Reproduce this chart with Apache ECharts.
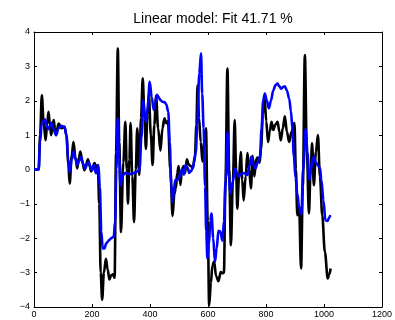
<!DOCTYPE html>
<html>
<head>
<meta charset="utf-8">
<script src="https://cdn.jsdelivr.net/npm/echarts@6/dist/echarts.min.js"></script>
<style>
  html, body { margin: 0; padding: 0; background: #fff; }
  #chart { width: 395px; height: 320px; }
</style>
</head>
<body>
<div id="chart"></div>
<script>
// 测量输出 (黑线)
var measuredX = [0, 16, 21, 27, 33, 40, 45, 50, 55, 59, 64, 68, 72, 76, 80, 85, 95, 105, 112, 118,
  123, 130, 136, 143, 149, 155, 160, 167, 174, 180, 186, 192, 197, 203, 209, 215, 220, 225, 230, 235,
  241, 248, 254, 260, 266, 272, 278, 283, 289, 294, 300, 308, 315, 320, 324, 329, 333, 339, 345, 351,
  356, 363, 369, 375, 381, 386, 391, 396, 403, 409, 415, 421, 428, 436, 443, 450, 456, 462, 470, 478,
  484, 489, 494, 499, 505, 510, 516, 521, 527, 533, 540, 548, 555, 560, 564, 569, 575, 581, 587, 593,
  599, 604, 610, 615, 621, 628, 636, 644, 650, 655, 660, 667, 673, 679, 686, 692, 697, 701, 707, 713,
  718, 723, 730, 736, 742, 748, 754, 760, 766, 772, 778, 783, 789, 795, 801, 807, 813, 819, 825, 832,
  840, 846, 851, 858, 865, 872, 880, 888, 898, 903, 908, 914, 921, 927, 934, 941, 948, 954, 959, 965,
  972, 979, 986, 994, 1003, 1013, 1018, 1023]
var measuredY = [0, 0, 1.0, 2.16, 1.4, 0.85, 1.3, 1.68, 1.3, 1.0, 1.25, 1.44, 1.2, 1.0, 1.2, 1.34, 1.2, 1.24, 1.0, 0.2,
  -0.41, 0.4, 0.8, 0.35, 0.03, 0.35, 0.52, 0.2, -0.02, 0.15, 0.3, 0.1, -0.06, 0.1, 0.19, 0.05, 0.12, -1.0, -3.0, -3.79,
  -3.0, -2.6, -2.9, -3.2, -3.08, -3.05, -3.15, 0.5, 3.52, 0.8, -1.82, 0.2, 1.39, 0.0, -0.99, 0.3, 1.35, -0.2, -1.53, 0.0,
  1.2, -0.16, 1.5, 2.65, 1.5, 0.6, 1.6, 2.2, 1.0, 0.13, 1.3, 2.14, 1.2, 0.55, 1.2, 1.49, 1.35, 1.4, 0.0, -1.35,
  -0.7, -0.55, -0.1, 0.1, -0.45, 0.0, 0.1, -0.1, 0.3, 0.15, 0.1, 0.05, 0.4, 1.3, 2.45, 1.5, 0.8, 0.23, 0.8, 1.2,
  -1.5, -3.95, -3.3, -2.8, -2.68, -3.1, -3.25, -2.98, -3.02, -3.0, -0.5, 2.94, 0.0, -2.2, -0.3, 1.44, 0.0, -1.14, -0.2, 0.51,
  -0.3, -0.9, -0.2, 0.48, 0.0, -0.55, 0.4, -0.2, 0.3, 0.35, 0.2, 0.6, 1.6, 2.1, 1.4, 0.8, 1.1, 1.39, 1.15, 1.3,
  1.39, 1.1, 0.85, 1.2, 1.55, 1.1, 0.8, 1.1, 1.35, 0.0, -1.33, -1.1, -2.88, -0.5, 3.33, 0.5, -1.28, 0.0, 0.76, -0.46,
  0.5, 1.0, -0.2, -1.33, -2.4, -3.17, -3.05, -2.88]

// 模型输出 (蓝线)
var modelX = [0, 16, 21, 27, 32, 37, 43, 48, 54, 59, 66, 76, 85, 94, 105, 112, 118, 123, 130, 137,
  143, 149, 156, 163, 170, 177, 183, 189, 195, 200, 206, 214, 222, 227, 232, 237, 243, 249, 254, 260,
  266, 275, 280, 284, 289, 294, 298, 305, 312, 325, 335, 345, 358, 364, 370, 377, 382, 386, 392, 399,
  406, 413, 418, 424, 430, 436, 443, 450, 456, 463, 468, 473, 478, 483, 488, 494, 500, 506, 511, 517,
  523, 530, 535, 541, 548, 552, 558, 563, 570, 576, 580, 585, 590, 594, 598, 603, 608, 612, 618, 624,
  630, 636, 642, 650, 655, 661, 667, 672, 677, 684, 694, 700, 706, 713, 720, 728, 736, 743, 749, 756,
  764, 771, 779, 785, 790, 796, 803, 810, 817, 825, 833, 840, 846, 853, 859, 865, 872, 880, 886, 891,
  896, 902, 908, 914, 922, 928, 937, 943, 949, 955, 960, 966, 972, 980, 986, 991, 998, 1005, 1012, 1018,
  1022]
var modelY = [0, 0, 0.8, 1.36, 1.4, 1.46, 1.3, 1.17, 1.25, 1.36, 1.2, 1.0, 1.2, 1.27, 1.24, 1.0, 0.3, -0.08, 0.3, 0.52,
  0.3, 0.13, 0.25, 0.37, 0.15, 0.03, 0.15, 0.22, 0.05, -0.02, 0.13, -0.11, 0.13, -0.5, -1.8, -2.3, -2.3, -2.15, -2.1, -2.05,
  -2.0, -1.95, -1.5, 0.0, 1.49, 0.3, -0.46, -0.2, -0.11, -0.12, -0.13, -0.1, -0.05, 0.0, 0.9, 2.02, 1.6, 1.39, 1.8, 2.55,
  2.1, 1.73, 1.95, 2.17, 2.1, 2.02, 1.97, 1.96, 1.9, 1.68, 0.8, -0.4, -0.94, -0.5, -0.3, -0.3, -0.25, -0.05, 0.0, -0.15,
  0.13, 0.05, -0.1, -0.05, 0.05, 0.22, 0.5, 1.3, 2.8, 3.38, 2.2, 1.2, -0.5, -1.8, -2.59, -2.2, -1.5, -1.28, -2.0, -2.68,
  -2.3, -1.78, -1.8, -2.07, -1.5, -0.3, 1.1, -0.2, -0.7, -0.4, 0.03, -0.1, -0.2, -0.15, -0.1, -0.12, -0.16, 0.1, 0.37, 0.15,
  0.03, 0.2, 0.37, 1.2, 2.0, 2.21, 2.0, 1.78, 2.0, 2.3, 2.46, 2.5, 2.42, 2.35, 2.4, 2.42, 2.3, 2.06, 1.7, 1.2,
  0.4, -0.25, -0.7, -1.1, -1.3, 0.0, 1.19, 0.5, -0.3, 0.0, 0.3, 0.37, 0.2, 0.1, 0.05, -0.3, -0.9, -1.48, -1.5, -1.4,
  -1.33]

var titleText = 'Linear model: Fit 41.71 %'

function pairs(xs, ys) {
  return xs.map(function (x, i) { return [x, ys[i]] })
}

// 刻度文字: 不要千分位, 负号用 −
var plain = function (v) { return String(v).replace('-', '\u2212') }
var tickFont = { fontFamily: 'Liberation Sans', fontSize: 9, color: '#000' }

var option = {
  animation: false,
  title: {
    text: titleText,
    left: 208,
    top: 7,
    textAlign: 'center',
    textStyle: { fontFamily: 'Liberation Sans', fontSize: 14, fontWeight: 'normal', color: '#000' }
  },
  grid: { left: 34, right: 13, top: 32, bottom: 13, containLabel: false },
  xAxis: [
    {
      type: 'value', min: 0, max: 1200, interval: 200,
      axisLine: { show: true, onZero: false, lineStyle: { color: '#000', width: 1 } },
      axisTick: { show: true, inside: true, length: 3, lineStyle: { color: '#000' } },
      axisLabel: Object.assign({ margin: 3, formatter: plain }, tickFont),
      splitLine: { show: false }
    },
    {
      type: 'value', min: 0, max: 1200, interval: 200, position: 'top',
      axisLine: { show: true, onZero: false, lineStyle: { color: '#000', width: 1 } },
      axisTick: { show: true, inside: true, length: 3, lineStyle: { color: '#000' } },
      axisLabel: { show: false },
      splitLine: { show: false }
    }
  ],
  yAxis: [
    {
      type: 'value', min: -4, max: 4, interval: 1,
      axisLine: { show: true, onZero: false, lineStyle: { color: '#000', width: 1 } },
      axisTick: { show: true, inside: true, length: 3, lineStyle: { color: '#000' } },
      axisLabel: Object.assign({ margin: 4, formatter: plain }, tickFont),
      splitLine: { show: false }
    },
    {
      type: 'value', min: -4, max: 4, interval: 1, position: 'right',
      axisLine: { show: true, onZero: false, lineStyle: { color: '#000', width: 1 } },
      axisTick: { show: true, inside: true, length: 3, lineStyle: { color: '#000' } },
      axisLabel: { show: false },
      splitLine: { show: false }
    }
  ],
  series: [
    {
      name: 'measured',
      type: 'line',
      data: pairs(measuredX, measuredY),
      smooth: 0.35,
      smoothMonotone: 'x',
      showSymbol: false,
      lineStyle: { color: '#000', width: 2.6 }
    },
    {
      name: 'model',
      type: 'line',
      data: pairs(modelX, modelY),
      smooth: 0.35,
      smoothMonotone: 'x',
      showSymbol: false,
      lineStyle: { color: '#0000ff', width: 2.6 }
    }
  ]
}

var myChart = echarts.init(document.getElementById('chart'))
myChart.setOption(option)
</script>
</body>
</html>
